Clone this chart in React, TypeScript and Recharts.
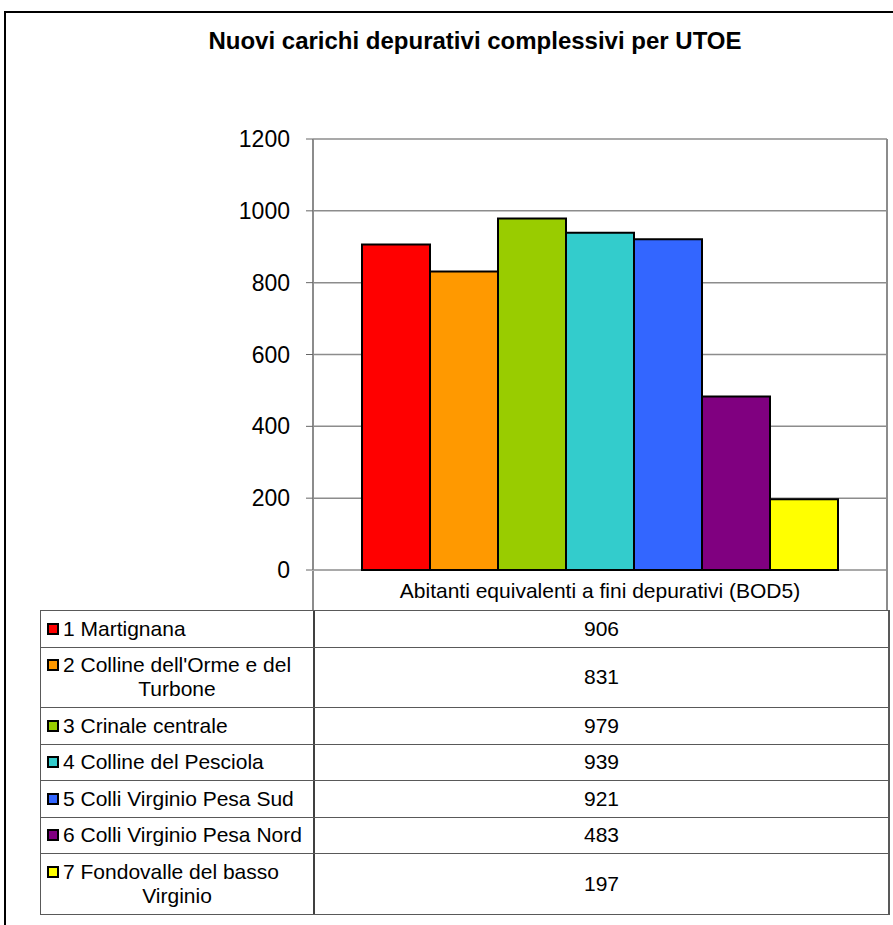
import { BarChart, Bar, XAxis, YAxis, CartesianGrid } from 'recharts';

const chartTitle = 'Nuovi carichi depurativi complessivi per UTOE';
const categoryLabel = 'Abitanti equivalenti a fini depurativi (BOD5)';

// each UTOE name, already split on the lines shown in the data table
const utoeNames: string[][] = [
  ['1 Martignana'],
  ["2 Colline dell'Orme e del", 'Turbone'],
  ['3 Crinale centrale'],
  ['4 Colline del Pesciola'],
  ['5 Colli Virginio Pesa Sud'],
  ['6 Colli Virginio Pesa Nord'],
  ['7 Fondovalle del basso', 'Virginio'],
];
const utoeValues = [906, 831, 979, 939, 921, 483, 197];
const utoeColors = ['#FF0000', '#FF9900', '#99CC00', '#33CCCC', '#3366FF', '#800080', '#FFFF00'];
const yTicks = [0, 200, 400, 600, 800, 1000, 1200];

const FONT = '"Liberation Sans", Arial, Helvetica, sans-serif';
const LINE = '#595959';

const row: Record<string, string | number> = { name: categoryLabel };
utoeValues.forEach((v, i) => {
  row['u' + i] = v;
});
const chartData = [row];

function DataTable() {
  return (
    <>
      {/* header cell under the plot */}
      <div
        style={{
          position: 'absolute',
          left: 313,
          top: 571,
          width: 574,
          height: 40,
          display: 'flex',
          alignItems: 'center',
          justifyContent: 'center',
          fontSize: 21,
        }}
      >
        {categoryLabel}
      </div>
      <div
        style={{
          position: 'absolute',
          left: 40,
          top: 610,
          width: 847,
          borderLeft: `1px solid ${LINE}`,
          borderTop: `1px solid ${LINE}`,
          borderRight: `2px solid ${LINE}`,
        }}
      >
        {utoeNames.map((lines, i) => (
          <div
            key={i}
            style={{
              display: 'flex',
              height: lines.length > 1 ? 60.5 : 36.5,
              borderBottom: `1px solid ${LINE}`,
              boxSizing: 'border-box',
            }}
          >
            <div
              style={{
                width: 272,
                borderRight: `2px solid #404040`,
                display: 'flex',
                flexDirection: 'column',
                justifyContent: 'center',
                lineHeight: '24px',
                fontSize: 21,
              }}
            >
              {lines.map((ln, j) =>
                j === 0 ? (
                  <div key={j} style={{ paddingLeft: 6, whiteSpace: 'nowrap', display: 'flex', alignItems: 'center' }}>
                    <span
                      style={{
                        display: 'inline-block',
                        width: 8,
                        height: 8,
                        border: '2px solid #000',
                        background: utoeColors[i],
                        marginRight: 4,
                      }}
                    />
                    {ln}
                  </div>
                ) : (
                  <div key={j} style={{ textAlign: 'center' }}>
                    {ln}
                  </div>
                ),
              )}
            </div>
            <div
              style={{
                flex: 1,
                display: 'flex',
                alignItems: 'center',
                justifyContent: 'center',
                fontSize: 21,
              }}
            >
              {utoeValues[i]}
            </div>
          </div>
        ))}
      </div>
    </>
  );
}

export default function App() {
  return (
    <div
      style={{
        position: 'absolute',
        left: 0,
        top: 0,
        width: 893,
        height: 925,
        overflow: 'hidden',
        background: '#fff',
        fontFamily: FONT,
        color: '#000',
      }}
    >
      {/* outer chart frame */}
      <div
        style={{
          position: 'absolute',
          left: 4,
          top: 11,
          width: 1000,
          height: 1000,
          border: '2px solid #000',
        }}
      />
      <div
        style={{
          position: 'absolute',
          left: 0,
          top: 27,
          width: 950,
          textAlign: 'center',
          fontSize: 24,
          fontWeight: 'bold',
          lineHeight: '28px',
        }}
      >
        {chartTitle}
      </div>
      <div style={{ position: 'absolute', left: 0, top: 0 }}>
        <BarChart
          width={893}
          height={600}
          data={chartData}
          margin={{ top: 139, right: 6, bottom: 30, left: 233 }}
          barCategoryGap={49}
          barGap={0}
        >
          <CartesianGrid vertical={false} stroke="#8c8c8c" strokeWidth={1.5} />
          <XAxis
            dataKey="name"
            height={0}
            tick={false}
            tickLine={false}
            axisLine={{ stroke: '#000', strokeWidth: 2 }}
          />
          <YAxis
            type="number"
            domain={[0, 1200]}
            ticks={yTicks}
            interval={0}
            width={80}
            tickSize={7}
            tickMargin={16}
            axisLine={{ stroke: '#8c8c8c', strokeWidth: 2 }}
            tickLine={{ stroke: '#666' }}
            tick={{ fill: '#000', fontSize: 23, fontFamily: FONT }}
          />
          {utoeValues.map((_, i) => (
            <Bar
              key={i}
              dataKey={'u' + i}
              fill={utoeColors[i]}
              stroke="#000"
              strokeWidth={2}
              isAnimationActive={false}
            />
          ))}
        </BarChart>
      </div>
      {/* plot area right edge */}
      <div
        style={{
          position: 'absolute',
          left: 886,
          top: 139,
          width: 0,
          height: 472,
          borderRight: '2px solid #8c8c8c',
        }}
      />
      {/* axis line continuing through the header cell */}
      <div
        style={{
          position: 'absolute',
          left: 312,
          top: 571,
          width: 0,
          height: 40,
          borderLeft: '2px solid #8c8c8c',
        }}
      />
      <DataTable />
    </div>
  );
}
